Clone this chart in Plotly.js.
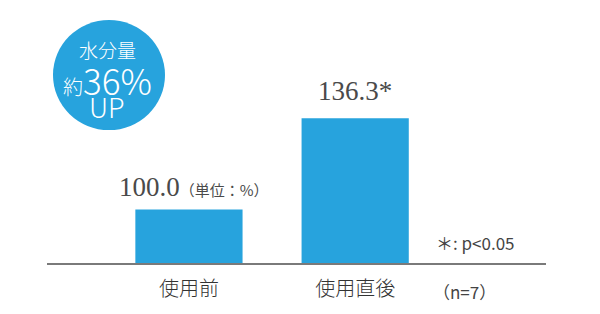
<!DOCTYPE html>
<html>
<head>
<meta charset="utf-8">
<script src="https://cdn.plot.ly/plotly-3.0.1.min.js"></script>
<style>html,body{margin:0;padding:0;background:#fff;}#chart{width:600px;height:314px;}</style>
</head>
<body>
<div id="chart"></div>
<script>
// ---- data ----
const categories = ['使用前', '使用直後'];
const values = [100.0, 136.3];
const valueLabels = ['100.0', '136.3'];
const valueSuffixes = ['<span style="font-family:Noto Sans CJK JP;font-size:15px">（単位：%）</span>', '*'];
const badgeLines = ['水分量', '約', '36%', 'UP'];
const noteSignificance = '＊: p<0.05';
const noteSample = '（n=7）';

// ---- styling ----
const BLUE = '#27a3dd';
const JP = 'Noto Sans CJK JP, Noto Sans, sans-serif';
const SERIF = 'Liberation Serif, DejaVu Serif, serif';
const labelShiftY = [6, 10];
const labelShiftX = [5, 0];

const trace = {
  type: 'bar',
  x: categories,
  y: values,
  marker: {color: BLUE, line: {width: 0}},
  width: 0.645,
  hoverinfo: 'none'
};

const annotations = [];
categories.forEach((c, i) => {
  annotations.push({
    x: c, y: values[i], xref: 'x', yref: 'y',
    text: valueLabels[i] + valueSuffixes[i],
    showarrow: false, yanchor: 'bottom', xanchor: 'center',
    yshift: labelShiftY[i], xshift: labelShiftX[i],
    font: {family: SERIF, size: 27, color: '#4a4a4a'}
  });
});

// badge text
const bx = 0.1205;
annotations.push({
  x: bx, y: 0.880, xref: 'paper', yref: 'paper', showarrow: false,
  xanchor: 'center', yanchor: 'middle',
  text: badgeLines[0], font: {family: JP, size: 19, color: '#fff', weight: 300}
});
annotations.push({
  x: bx, y: 0.757, xref: 'paper', yref: 'paper', showarrow: false,
  xanchor: 'center', yanchor: 'middle',
  text: '<span style="font-size:20px">' + badgeLines[1] + '</span>' + badgeLines[2],
  font: {family: JP, size: 35, color: '#fff', weight: 300}
});
annotations.push({
  x: bx, y: 0.643, xref: 'paper', yref: 'paper', showarrow: false,
  xanchor: 'center', yanchor: 'middle',
  text: badgeLines[3], font: {family: JP, size: 27, color: '#fff', weight: 300}
});

// notes
annotations.push({
  x: 0.776, y: 0.086, xref: 'paper', yref: 'paper', showarrow: false,
  xanchor: 'left', yanchor: 'middle', text: noteSignificance,
  font: {family: JP, size: 17, color: '#444'}
});
annotations.push({
  x: 0.770, y: -0.118, xref: 'paper', yref: 'paper', showarrow: false,
  xanchor: 'left', yanchor: 'middle', text: noteSample,
  font: {family: JP, size: 17, color: '#444'}
});

const layout = {
  width: 600, height: 314,
  margin: {l: 47, r: 54, t: 20, b: 51, pad: 0},
  paper_bgcolor: '#fff', plot_bgcolor: '#fff',
  showlegend: false,
  xaxis: {
    type: 'category', range: [-0.854, 2.148],
    showline: true, linecolor: '#7a7a7a', linewidth: 2,
    showgrid: false, zeroline: false,
    ticks: '', ticklabelstandoff: 7,
    tickfont: {family: JP, size: 20, color: '#333', weight: 300},
    fixedrange: true
  },
  yaxis: {
    range: [78.8, 175.3], visible: false,
    showgrid: false, zeroline: false, fixedrange: true
  },
  shapes: [{
    type: 'circle', xref: 'paper', yref: 'paper', layer: 'above',
    x0: 0.012, x1: 0.2365, y0: 0.547, y1: 1.0,
    fillcolor: BLUE, line: {width: 0}
  }],
  annotations: annotations
};

Plotly.newPlot('chart', [trace], layout, {displayModeBar: false, staticPlot: true});
</script>
</body>
</html>
